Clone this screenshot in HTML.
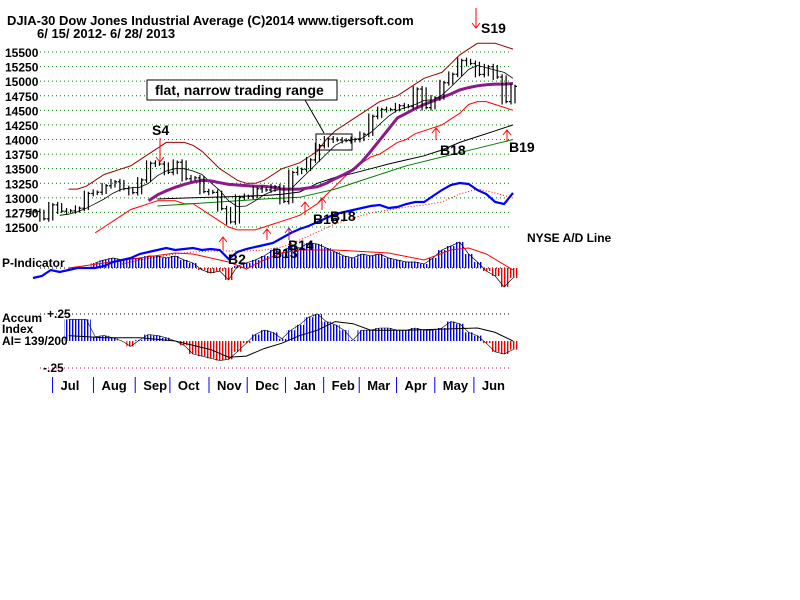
<!DOCTYPE html>
<html><head><meta charset="utf-8"><style>
body{margin:0;background:#fff;}
svg{display:block;font-family:"Liberation Sans",sans-serif;}
.t{font-weight:bold;font-size:12px;fill:#000;}
.h{font-weight:bold;font-size:13px;fill:#000;}
</style></head><body>
<svg id="chart" width="800" height="600" viewBox="0 0 800 600" xmlns="http://www.w3.org/2000/svg">
<defs>
<pattern id="bs" width="3" height="4" patternUnits="userSpaceOnUse"><rect x="0" y="0" width="1.4" height="4" fill="#0000ee"/></pattern>
<pattern id="rs" width="3" height="4" patternUnits="userSpaceOnUse"><rect x="0" y="0" width="1.4" height="4" fill="#ee0000"/></pattern>
</defs>
<text class="h" x="7" y="25">DJIA-30  Dow Jones Industrial Average   (C)2014 www.tigersoft.com</text>
<text class="h" x="37" y="38">6/ 15/ 2012- 6/ 28/ 2013</text>
<g id="grid"></g><g id="marks"></g>
<text class="t" x="527" y="242">NYSE A/D Line</text>
<text class="t" x="2" y="267">P-Indicator</text>
<text class="t" x="2" y="322">Accum</text>
<text class="t" x="2" y="333">Index</text>
<text class="t" x="2" y="345">AI= 139/200</text>
<text class="t" x="47" y="318">+.25</text>
<text class="t" x="43" y="372">-.25</text>
<g>
<rect x="147" y="80" width="190" height="20" fill="#fff" stroke="#000"/>
<text x="155" y="95" font-size="14" font-weight="bold">flat, narrow trading range</text>
<line x1="305" y1="100" x2="324" y2="133" stroke="#000"/>
<rect x="316" y="134" width="36" height="16" fill="none" stroke="#000"/>
</g>
<g id="sig" font-size="14" font-weight="bold">
<text x="152" y="135">S4</text>
<text x="481" y="33">S19</text>
<text x="440" y="155">B18</text>
<text x="509" y="152">B19</text>
<text x="228" y="264">B2</text>
<text x="313" y="224">B16</text>
<text x="330" y="221">B18</text>
<text x="288" y="250">B14</text>
<text x="272" y="258">B13</text>
</g>
</svg>
<script>
const weekCount = 55;
const priceTicks = [15500,15250,15000,14750,14500,14250,14000,13750,13500,13250,13000,12750,12500];
const months = ["Jul","Aug","Sep","Oct","Nov","Dec","Jan","Feb","Mar","Apr","May","Jun"];
const monthWeek = [2.2,6.8,11.5,15.4,19.8,24.1,28.4,32.7,36.7,40.9,45.2,49.6];
const closes = [12767,12640,12880,12772,12777,12822,13075,13096,13207,13275,13158,13090,13306,13593,13579,13437,13610,13328,13343,13107,13093,12815,12588,13010,13025,13155,13135,13190,12938,13435,13488,13650,13895,14009,13992,13981,14000,14089,14397,14514,14512,14578,14565,14865,14547,14712,14973,15118,15354,15303,15115,15248,15070,14650,14910];
const upperBand = [null,null,null,null,13150,13150,13200,13300,13400,13450,13500,13550,13650,13750,13850,13950,13950,13950,13900,13800,13650,13500,13400,13300,13250,13250,13300,13400,13500,13550,13600,13700,13800,14000,14150,14250,14350,14450,14550,14650,14700,14750,14850,14950,15050,15100,15150,15300,15450,15550,15650,15650,15650,15600,15550];
const lowerBand = [null,null,null,null,null,null,null,12400,12500,12600,12700,12800,12850,12900,12950,12950,12950,12900,12900,12800,12700,12600,12500,12450,12450,12450,12500,12550,12600,12650,12700,12800,12900,13050,13200,13350,13500,13600,13700,13750,13850,13950,14000,14100,14150,14200,14250,14350,14450,14600,14650,14650,14600,14550,14500];
const ma50 = [null,null,null,null,null,null,null,null,null,null,null,null,null,12950,13050,13120,13180,13230,13270,13300,13290,13260,13230,13220,13210,13200,13200,13180,13150,13150,13150,13170,13190,13250,13330,13400,13480,13620,13800,13990,14180,14370,14450,14530,14600,14660,14720,14780,14850,14890,14920,14940,14950,14950,14960];
const ma21 = [null,null,null,12700,12720,12760,12820,12900,12980,13080,13150,13170,13180,13250,13380,13460,13500,13500,13460,13400,13260,13130,12950,12850,12860,12950,13050,13120,13150,13150,13300,13450,13600,13750,13900,13980,14000,14020,14120,14260,14400,14500,14550,14600,14670,14680,14760,14900,15050,15200,15270,15230,15190,15150,15050];
const longWeeks = [14,16,18,20,22,24,26,28,30,32,34,36,38,40,42,44,46,48,50,52,54];
const longMa = [12980,12990,13000,13010,13020,13030,13040,13060,13100,13250,13350,13420,13500,13580,13650,13720,13820,13950,14050,14150,14250];
const greenWeeks = [14,20,26,30,34,38,42,46,50,54];
const greenMa = [12860,12920,12980,13010,13150,13350,13550,13700,13850,14000];
const adLine = [12,14,20,18,20,22,22,22,24,28,30,32,36,38,40,42,40,41,42,40,41,40,31,38,41,43,45,47,52,57,61,64,68,72,76,78,80,82,84,85,82,83,86,88,88,94,100,105,107,106,100,96,88,86,97];
const adMaWeeks = [10,12,14,16,18,20,22,24,26,28,30,32,34,36,38,40,42,44,46,48,50,52,54];
const adMa = [26,30,33,36,38,39,39,39,40,43,50,58,66,72,77,80,83,85,88,96,101,97,92];
const pInd = [null,null,null,null,null,null,null,5,8,10,8,10,9,12,12,10,12,8,5,-2,-5,-3,-12,2,5,8,12,18,15,22,20,25,24,20,16,12,10,14,12,14,10,8,6,6,4,10,18,22,26,14,6,-3,-8,-19,-10];
const pMaWeeks = [4,8,12,16,18,20,22,24,26,28,30,34,38,40,44,47,49,51,54];
const pMa = [0,5,10,15,14,10,6,-1,8,15,18,18,16,15,8,18,20,14,-2];
const accum = [null,null,null,null,0.20,0.20,0.20,0.04,0.05,0.03,0.00,-0.05,0.01,0.06,0.05,0.03,0.00,-0.04,-0.12,-0.14,-0.16,-0.18,-0.17,-0.10,-0.02,0.06,0.10,0.08,0.02,0.10,0.15,0.22,0.25,0.18,0.15,0.10,0.01,0.10,0.10,0.12,0.12,0.10,0.10,0.12,0.10,0.10,0.12,0.18,0.16,0.08,0.05,-0.02,-0.10,-0.12,-0.08];
const accMaWeeks = [4,8,12,16,20,22,24,26,28,30,32,34,36,38,42,46,50,52,54];
const accMa = [0.05,0.03,0.03,0.00,-0.08,-0.15,-0.14,-0.07,-0.02,0.05,0.10,0.18,0.16,0.10,0.10,0.11,0.12,0.08,0.00];

const NS="http://www.w3.org/2000/svg";
const X0=33, X1=513;
const xs = i => X0 + i*(X1-X0)/(weekCount-1);
const yPrice = p => 52 + (15500-p)*(175/3000);
const yAd = v => 290 - v;
const yP = v => 268 - v;
const yAcc = v => 341 - v*108;
const grid=document.getElementById('grid'), marks=document.getElementById('marks');
function mk(tag, attrs, parent){const e=document.createElementNS(NS,tag);for(const k in attrs)e.setAttribute(k,attrs[k]);(parent||marks).appendChild(e);return e;}
function poly(idx, vals, yf, stroke, w, dash){
  let pts=[];vals.forEach((v,k)=>{if(v!==null)pts.push(xs(idx?idx[k]:k).toFixed(1)+','+yf(v).toFixed(1));});
  const a={points:pts.join(' '),fill:'none',stroke:stroke,'stroke-width':w};if(dash)a['stroke-dasharray']=dash;
  return mk('polyline',a);
}
priceTicks.forEach(p=>{
  const l=mk('line',{x1:40,x2:512,y1:yPrice(p),y2:yPrice(p),stroke:'#008000','stroke-dasharray':'1,3'},grid);
  
  
  const t=mk('text',{x:5,y:yPrice(p)+5,class:'t'},grid);t.textContent=p;
  
  
});
[[yP(0),'#000'],[yAcc(0.25),'#000'],[yAcc(-0.25),'#c00060']].forEach(([y,c])=>{
  const l=mk('line',{x1:40,x2:512,y1:y,y2:y,stroke:c,'stroke-dasharray':'1,3'},grid);
  
  
});
months.forEach((m,k)=>{
  const x=xs(monthWeek[k]);
  const l=mk('line',{x1:x,x2:x,y1:377,y2:393,stroke:'#0000ff'},grid);
  
  
  const t=mk('text',{x:x+8,y:390,class:'h'},grid);t.textContent=m;
  
  
});
pInd.forEach((v,i)=>{if(v===null)return;const w=(X1-X0)/(weekCount-1);
  const r=mk('rect',{x:xs(i)-w/2,y:Math.min(yP(v),yP(0)),width:w,height:Math.abs(v),fill:v>=0?'url(#bs)':'url(#rs)'});
  
  
});
poly(null,pInd,yP,'#000',0.7);
poly(pMaWeeks,pMa,yP,'#ff0000',1);
accum.forEach((v,i)=>{if(v===null)return;const w=(X1-X0)/(weekCount-1);
  const r=mk('rect',{x:xs(i)-w/2,y:Math.min(yAcc(v),yAcc(0)),width:w,height:Math.abs(v*108),fill:v>=0?'url(#bs)':'url(#rs)'});
  
  
});
poly(null,accum,yAcc,'#000',0.6);
poly(accMaWeeks,accMa,yAcc,'#000',1);
poly(null,upperBand,yPrice,'#990000',1);
poly(null,lowerBand,yPrice,'#ff0000',1);
poly(greenWeeks,greenMa,yPrice,'#008000',1);
poly(longWeeks,longMa,yPrice,'#000',1);
poly(null,ma21,yPrice,'#000',0.8);
poly(null,ma50,yPrice,'#8b1a8b',3);
poly(adMaWeeks,adMa,yAd,'#ff0000',1,'1,2');
poly(null,adLine,yAd,'#0000ff',2.2);
closes.forEach((c,i)=>{
  const o=i>0?closes[i-1]:c, hi=Math.max(o,c)+50, lo=Math.min(o,c)-50, x=xs(i);
  const g=mk('g',{stroke:'#000','stroke-width':1.2});
  
  
  mk('line',{x1:x-2,x2:x-2,y1:yPrice(hi),y2:yPrice(lo)},g);
  mk('line',{x1:x+2,x2:x+2,y1:yPrice(hi-20),y2:yPrice(lo+20)},g);
  mk('line',{x1:x-4,x2:x-2,y1:yPrice(o),y2:yPrice(o)},g);
  mk('line',{x1:x+2,x2:x+4,y1:yPrice(c),y2:yPrice(c)},g);
});
[[160,138,162,'#f00'],[476,8,28,'#f00'],[436,140,128,'#f00'],[507,142,130,'#f00'],[223,250,237,'#f00'],[267,240,229,'#f00'],[289,240,228,'#8b1a8b'],[305,215,202,'#f00'],[322,210,198,'#f00']].forEach(([x,y1,y2,c])=>{
  const g=mk('g',{stroke:c,'stroke-width':1,fill:'none'});
  
  
  const d=y2>y1?-5:5;
  mk('line',{x1:x,x2:x,y1:y1,y2:y2},g);
  mk('polyline',{points:`${x-4},${y2+d} ${x},${y2} ${x+4},${y2+d}`},g);
});
</script>
</body></html>
